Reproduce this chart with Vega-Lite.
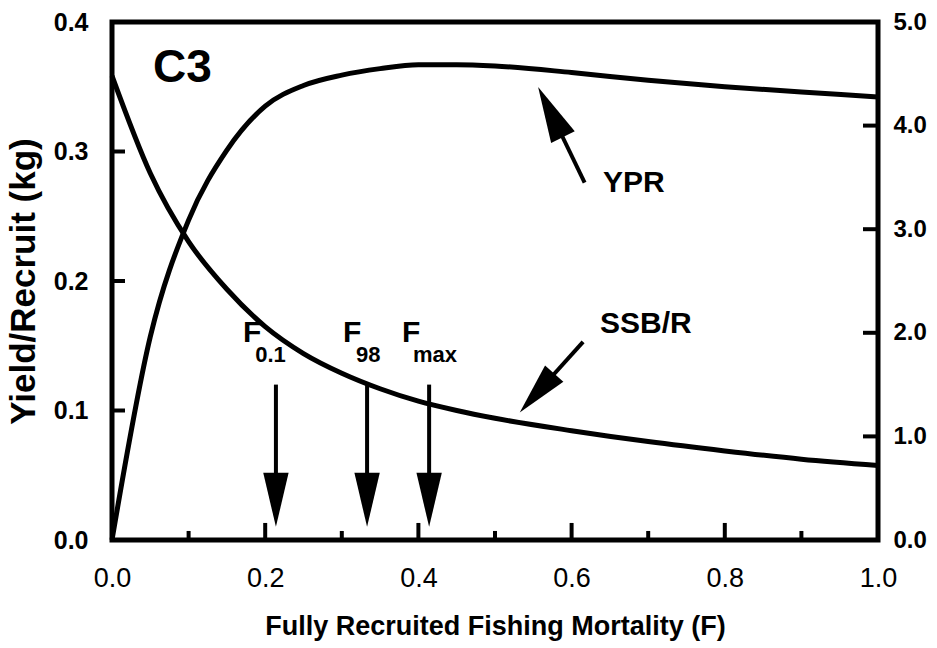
{
  "$schema": "https://vega.github.io/schema/vega-lite/v6.json",
  "width": 766,
  "height": 518,
  "autosize": {"type": "none"},
  "padding": {"left": 112, "top": 22, "right": 59, "bottom": 108},
  "background": "white",
  "config": {
    "view": {"stroke": "black", "strokeWidth": 5},
    "font": "Liberation Sans",
    "axis": {"grid": false, "domain": false, "ticks": false, "labelColor": "black", "titleColor": "black"}
  },
  "datasets": {
    "curves": [
      {"F": 0.0, "ypr": 0.0, "ssb": 4.48},
      {"F": 0.05, "ypr": 0.157, "ssb": 3.54},
      {"F": 0.1, "ypr": 0.247, "ssb": 2.88},
      {"F": 0.15, "ypr": 0.301, "ssb": 2.42},
      {"F": 0.2, "ypr": 0.335, "ssb": 2.06},
      {"F": 0.25, "ypr": 0.351, "ssb": 1.80},
      {"F": 0.3, "ypr": 0.359, "ssb": 1.61},
      {"F": 0.35, "ypr": 0.364, "ssb": 1.46},
      {"F": 0.4, "ypr": 0.367, "ssb": 1.34},
      {"F": 0.45, "ypr": 0.367, "ssb": 1.25},
      {"F": 0.5, "ypr": 0.366, "ssb": 1.175},
      {"F": 0.6, "ypr": 0.361, "ssb": 1.055},
      {"F": 0.7, "ypr": 0.355, "ssb": 0.95},
      {"F": 0.8, "ypr": 0.350, "ssb": 0.86},
      {"F": 0.9, "ypr": 0.346, "ssb": 0.78},
      {"F": 1.0, "ypr": 0.342, "ssb": 0.72}
    ],
    "axisticks": [
      {"group": "xmajor", "v": 0.2},
      {"group": "xmajor", "v": 0.4},
      {"group": "xmajor", "v": 0.6},
      {"group": "xmajor", "v": 0.8},
      {"group": "xminor", "v": 0.1},
      {"group": "xminor", "v": 0.3},
      {"group": "xminor", "v": 0.5},
      {"group": "xminor", "v": 0.7},
      {"group": "xminor", "v": 0.9},
      {"group": "left", "v": 0.1},
      {"group": "left", "v": 0.2},
      {"group": "left", "v": 0.3},
      {"group": "right", "v": 1},
      {"group": "right", "v": 2},
      {"group": "right", "v": 3},
      {"group": "right", "v": 4}
    ],
    "segments": [
      {"x1": 0.214, "y1": 0.120, "x2": 0.214, "y2": 0.031},
      {"x1": 0.333, "y1": 0.120, "x2": 0.333, "y2": 0.031},
      {"x1": 0.414, "y1": 0.120, "x2": 0.414, "y2": 0.031},
      {"x1": 0.617, "y1": 0.276, "x2": 0.5725, "y2": 0.3305},
      {"x1": 0.615, "y1": 0.153, "x2": 0.5548, "y2": 0.1135}
    ],
    "heads": [
      {"x": 0.214, "y": 0.031, "dir": "down"},
      {"x": 0.333, "y": 0.031, "dir": "down"},
      {"x": 0.414, "y": 0.031, "dir": "down"},
      {"x": 0.5725, "y": 0.3305, "dir": "ypr"},
      {"x": 0.5548, "y": 0.1135, "dir": "ssb"}
    ],
    "bigtext": [
      {"x": 0.641, "y": 0.2687, "t": "YPR"},
      {"x": 0.637, "y": 0.160, "t": "SSB/R"},
      {"x": 0.171, "y": 0.153, "t": "F"},
      {"x": 0.3016, "y": 0.153, "t": "F"},
      {"x": 0.3786, "y": 0.153, "t": "F"}
    ],
    "subtext": [
      {"x": 0.187, "y": 0.1375, "t": "0.1"},
      {"x": 0.3185, "y": 0.1375, "t": "98"},
      {"x": 0.393, "y": 0.1375, "t": "max"}
    ],
    "panel": [
      {"x": 0.0535, "y": 0.3537, "t": "C3"}
    ]
  },
  "layer": [
    {
      "data": {"name": "curves"},
      "mark": {"type": "line", "color": "black", "strokeWidth": 5, "interpolate": "monotone"},
      "encoding": {
        "x": {
          "field": "F", "type": "quantitative",
          "scale": {"domain": [0, 1], "nice": false},
          "axis": {
            "orient": "bottom",
            "values": [0, 0.2, 0.4, 0.6, 0.8, 1.0],
            "format": ".1f",
            "labelFont": "Liberation Sans Narrow, Liberation Sans, sans-serif",
            "labelFontSize": 27,
            "labelPadding": 25,
            "labelFlush": false,
            "labelOverlap": false,
            "title": "Fully Recruited Fishing Mortality (F)",
            "titleFontSize": 27,
            "titleFontWeight": "bold",
            "titlePadding": 22
          }
        },
        "y": {
          "field": "ypr", "type": "quantitative",
          "scale": {"domain": [0, 0.4], "nice": false},
          "axis": {
            "orient": "left",
            "values": [0, 0.1, 0.2, 0.3, 0.4],
            "format": ".1f",
            "labelFontSize": 25,
            "labelFontWeight": "bold",
            "labelPadding": 24,
            "labelFlush": false,
            "title": "Yield/Recruit (kg)",
            "titleFontSize": 35,
            "titleFontWeight": "bold",
            "titlePadding": 12
          }
        }
      }
    },
    {
      "data": {"name": "curves"},
      "mark": {"type": "line", "color": "black", "strokeWidth": 5, "interpolate": "monotone"},
      "encoding": {
        "x": {"field": "F", "type": "quantitative"},
        "y": {
          "field": "ssb", "type": "quantitative",
          "scale": {"domain": [0, 5], "nice": false},
          "axis": {
            "orient": "right",
            "values": [0, 1, 2, 3, 4, 5],
            "format": ".1f",
            "labelFontSize": 24,
            "labelFontWeight": "bold",
            "labelPadding": 15,
            "labelFlush": false,
            "title": null
          }
        }
      }
    },
    {
      "data": {"name": "axisticks"},
      "transform": [{"filter": "datum.group == 'xmajor'"}],
      "mark": {"type": "tick", "orient": "vertical", "size": 17, "thickness": 4, "color": "black", "opacity": 1},
      "encoding": {
        "x": {"field": "v", "type": "quantitative"},
        "y": {"datum": 0.0066, "type": "quantitative", "scale": {"domain": [0, 0.4], "nice": false}, "axis": null}
      }
    },
    {
      "data": {"name": "axisticks"},
      "transform": [{"filter": "datum.group == 'xminor'"}],
      "mark": {"type": "tick", "orient": "vertical", "size": 9, "thickness": 4, "color": "black", "opacity": 1},
      "encoding": {
        "x": {"field": "v", "type": "quantitative"},
        "y": {"datum": 0.0035, "type": "quantitative", "scale": {"domain": [0, 0.4], "nice": false}, "axis": null}
      }
    },
    {
      "data": {"name": "axisticks"},
      "transform": [{"filter": "datum.group == 'left'"}],
      "mark": {"type": "tick", "orient": "horizontal", "size": 13, "thickness": 4, "color": "black", "opacity": 1},
      "encoding": {
        "x": {"datum": 0.0085, "type": "quantitative"},
        "y": {"field": "v", "type": "quantitative", "scale": {"domain": [0, 0.4], "nice": false}, "axis": null}
      }
    },
    {
      "data": {"name": "axisticks"},
      "transform": [{"filter": "datum.group == 'right'"}],
      "mark": {"type": "tick", "orient": "horizontal", "size": 15, "thickness": 4, "color": "black", "opacity": 1},
      "encoding": {
        "x": {"datum": 0.9902, "type": "quantitative"},
        "y": {"field": "v", "type": "quantitative", "scale": {"domain": [0, 5], "nice": false}, "axis": null}
      }
    },
    {
      "data": {"name": "segments"},
      "mark": {"type": "rule", "color": "black", "strokeWidth": 4},
      "encoding": {
        "x": {"field": "x1", "type": "quantitative"},
        "x2": {"field": "x2"},
        "y": {"field": "y1", "type": "quantitative", "scale": {"domain": [0, 0.4], "nice": false}, "axis": null},
        "y2": {"field": "y2"}
      }
    },
    {
      "data": {"name": "heads"},
      "transform": [{"filter": "datum.dir == 'down'"}],
      "mark": {"type": "point", "shape": "M-0.47,-1L0.47,-1L0,1Z", "size": 2916, "filled": true, "color": "black", "opacity": 1},
      "encoding": {
        "x": {"field": "x", "type": "quantitative"},
        "y": {"field": "y", "type": "quantitative", "scale": {"domain": [0, 0.4], "nice": false}, "axis": null}
      }
    },
    {
      "data": {"name": "heads"},
      "transform": [{"filter": "datum.dir == 'ypr'"}],
      "mark": {"type": "point", "shape": "M-0.47,-1L0.47,-1L0,1Z", "size": 3136, "filled": true, "color": "black", "opacity": 1, "angle": 153.7},
      "encoding": {
        "x": {"field": "x", "type": "quantitative"},
        "y": {"field": "y", "type": "quantitative", "scale": {"domain": [0, 0.4], "nice": false}, "axis": null}
      }
    },
    {
      "data": {"name": "heads"},
      "transform": [{"filter": "datum.dir == 'ssb'"}],
      "mark": {"type": "point", "shape": "M-0.47,-1L0.47,-1L0,1Z", "size": 2704, "filled": true, "color": "black", "opacity": 1, "angle": 41.5},
      "encoding": {
        "x": {"field": "x", "type": "quantitative"},
        "y": {"field": "y", "type": "quantitative", "scale": {"domain": [0, 0.4], "nice": false}, "axis": null}
      }
    },
    {
      "data": {"name": "bigtext"},
      "mark": {"type": "text", "align": "left", "baseline": "alphabetic", "fontSize": 30, "fontWeight": "bold", "color": "black"},
      "encoding": {
        "x": {"field": "x", "type": "quantitative"},
        "y": {"field": "y", "type": "quantitative", "scale": {"domain": [0, 0.4], "nice": false}, "axis": null},
        "text": {"field": "t"}
      }
    },
    {
      "data": {"name": "subtext"},
      "mark": {"type": "text", "align": "left", "baseline": "alphabetic", "fontSize": 22, "fontWeight": "bold", "color": "black"},
      "encoding": {
        "x": {"field": "x", "type": "quantitative"},
        "y": {"field": "y", "type": "quantitative", "scale": {"domain": [0, 0.4], "nice": false}, "axis": null},
        "text": {"field": "t"}
      }
    },
    {
      "data": {"name": "panel"},
      "mark": {"type": "text", "align": "left", "baseline": "alphabetic", "fontSize": 46, "fontWeight": "bold", "color": "black"},
      "encoding": {
        "x": {"field": "x", "type": "quantitative"},
        "y": {"field": "y", "type": "quantitative", "scale": {"domain": [0, 0.4], "nice": false}, "axis": null},
        "text": {"field": "t"}
      }
    }
  ],
  "resolve": {"scale": {"y": "independent"}, "axis": {"y": "independent"}}
}
